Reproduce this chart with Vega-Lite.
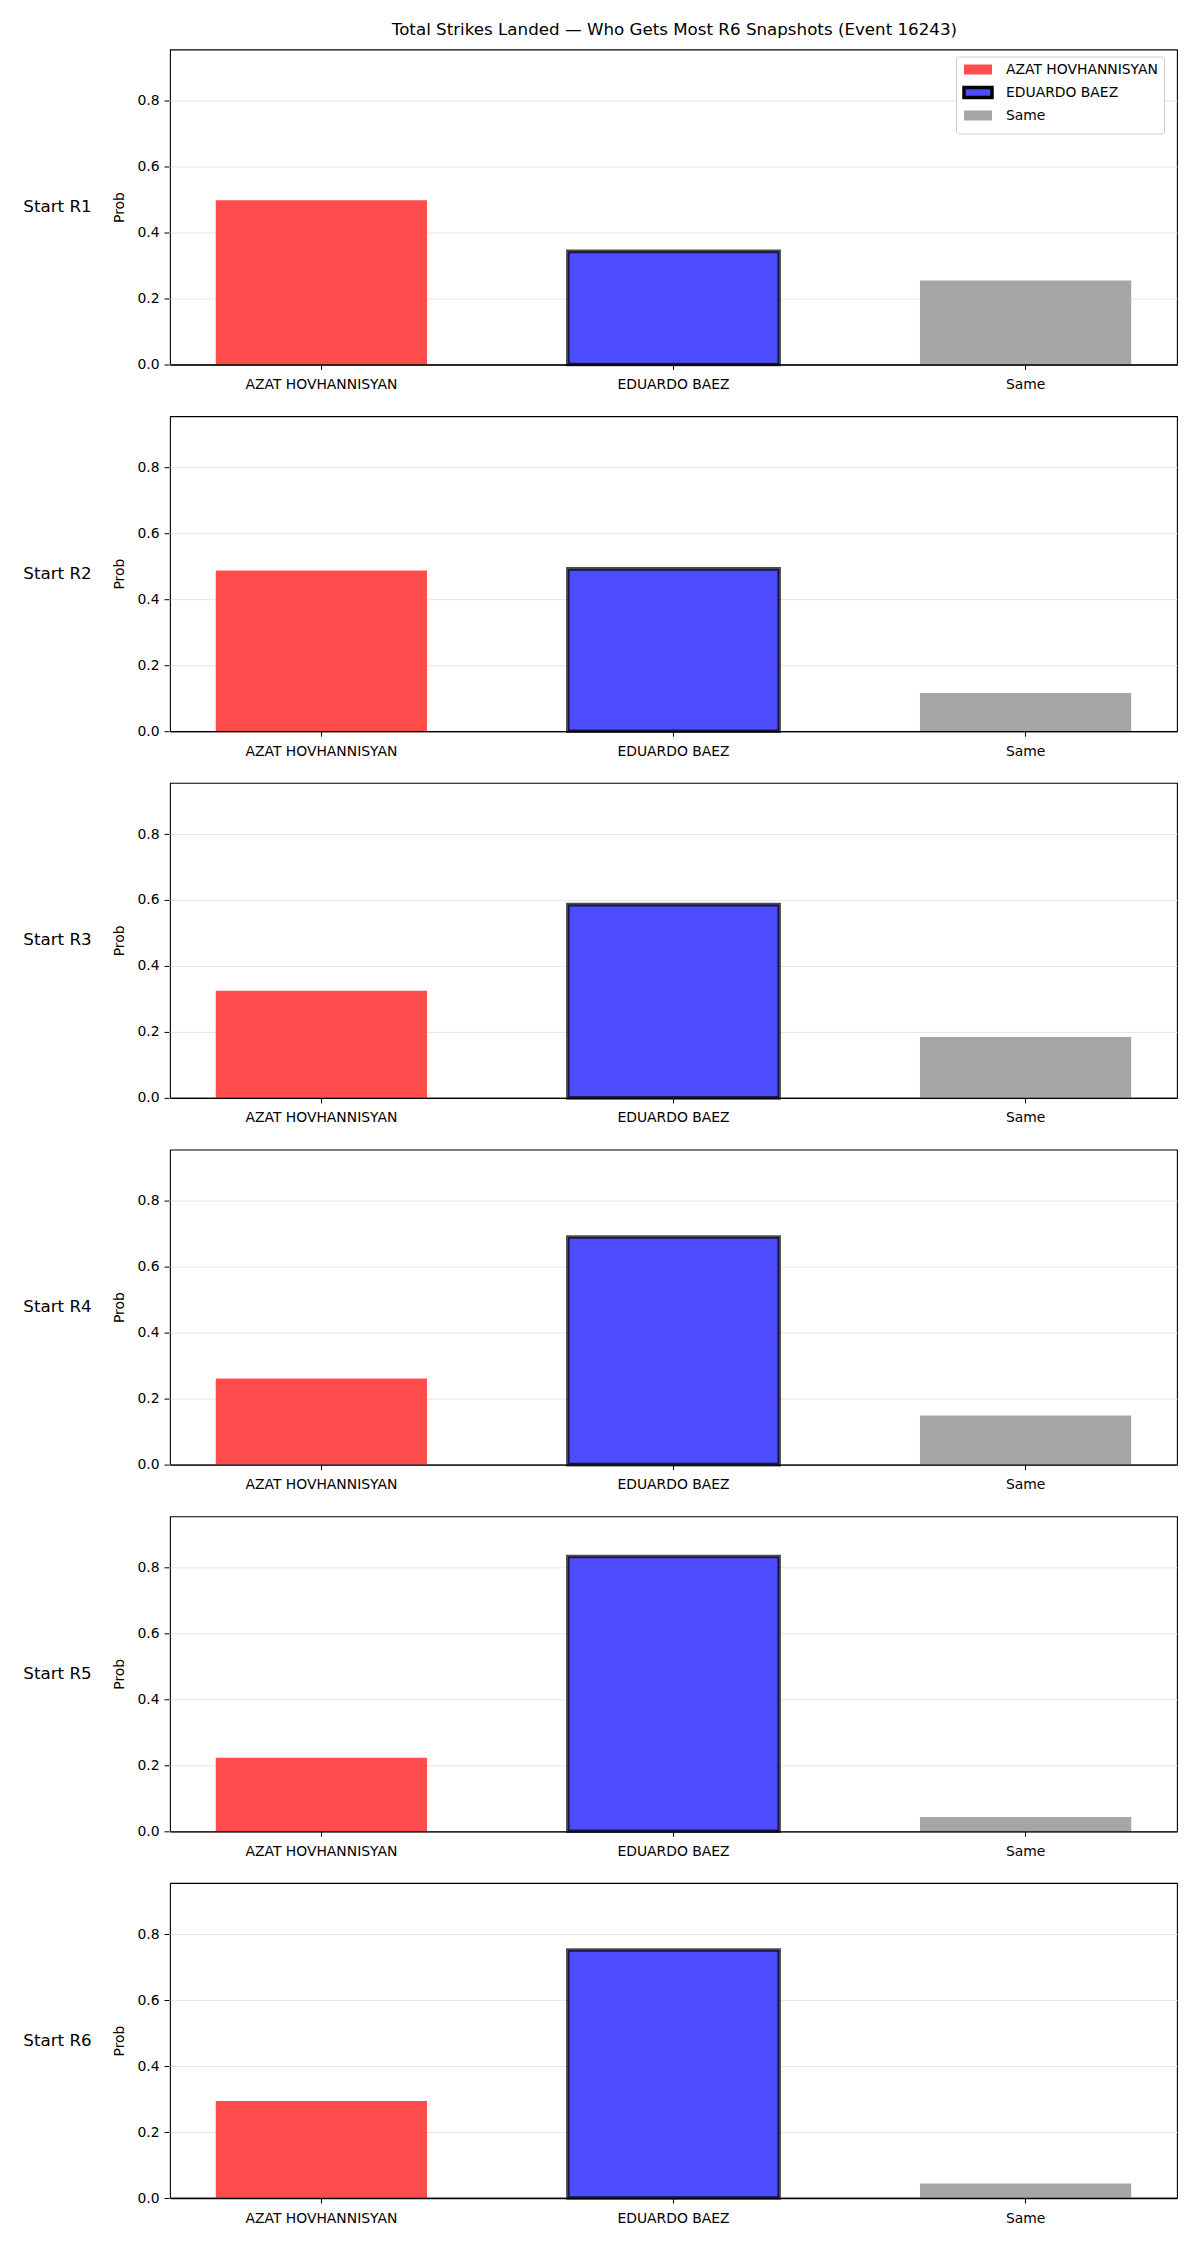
{
  "$schema": "https://vega.github.io/schema/vega-lite/v6.json",
  "background": "white",
  "padding": {"left": 23, "top": 21.5, "right": 10, "bottom": 10},
  "title": {"text": "Total Strikes Landed — Who Gets Most R6 Snapshots (Event 16243)", "fontSize": 16.7, "font": "DejaVu Sans", "fontWeight": "normal", "color": "black", "anchor": "middle", "offset": 10, "dx": 74},
  "data": {"values": [
    {"start": "Start R1", "who": "AZAT HOVHANNISYAN", "prob": 0.498},
    {"start": "Start R1", "who": "EDUARDO BAEZ", "prob": 0.343},
    {"start": "Start R1", "who": "Same", "prob": 0.255},
    {"start": "Start R2", "who": "AZAT HOVHANNISYAN", "prob": 0.487},
    {"start": "Start R2", "who": "EDUARDO BAEZ", "prob": 0.492},
    {"start": "Start R2", "who": "Same", "prob": 0.116},
    {"start": "Start R3", "who": "AZAT HOVHANNISYAN", "prob": 0.325},
    {"start": "Start R3", "who": "EDUARDO BAEZ", "prob": 0.586},
    {"start": "Start R3", "who": "Same", "prob": 0.185},
    {"start": "Start R4", "who": "AZAT HOVHANNISYAN", "prob": 0.261},
    {"start": "Start R4", "who": "EDUARDO BAEZ", "prob": 0.690},
    {"start": "Start R4", "who": "Same", "prob": 0.149},
    {"start": "Start R5", "who": "AZAT HOVHANNISYAN", "prob": 0.223},
    {"start": "Start R5", "who": "EDUARDO BAEZ", "prob": 0.833},
    {"start": "Start R5", "who": "Same", "prob": 0.043},
    {"start": "Start R6", "who": "AZAT HOVHANNISYAN", "prob": 0.294},
    {"start": "Start R6", "who": "EDUARDO BAEZ", "prob": 0.752},
    {"start": "Start R6", "who": "Same", "prob": 0.044}
  ]},
  "facet": {"row": {"field": "start", "type": "nominal", "sort": ["Start R1", "Start R2", "Start R3", "Start R4", "Start R5", "Start R6"],
    "header": {"title": null, "labelAngle": 0, "labelOrient": "left", "labelFontSize": 16.7, "labelFont": "DejaVu Sans", "labelColor": "black", "labelPadding": -47}}},
  "spacing": 22.7,
  "resolve": {"axis": {"x": "independent"}},
  "spec": {
    "width": 1007,
    "height": 315,
    "mark": {"type": "bar", "strokeOpacity": 0.7, "strokeWidth": 3.6},
    "encoding": {
      "x": {"field": "who", "type": "nominal", "sort": ["AZAT HOVHANNISYAN", "EDUARDO BAEZ", "Same"],
        "scale": {"paddingInner": 0.4, "paddingOuter": 0.13},
        "axis": {"title": null, "labelAngle": 0, "labelFontSize": 13.9, "labelFont": "DejaVu Sans", "labelColor": "black", "tickColor": "black", "tickSize": 5, "labelPadding": 8, "domain": true, "domainColor": "black", "domainWidth": 1.3, "zindex": 1, "grid": false}},
      "y": {"field": "prob", "type": "quantitative", "scale": {"domain": [0, 0.955], "nice": false, "zero": true},
        "axis": {"title": "Prob", "values": [0, 0.2, 0.4, 0.6, 0.8], "format": ".1f", "grid": true, "gridColor": "#e6e6e6", "gridWidth": 1, "domain": false, "tickColor": "black", "tickSize": 5, "labelPadding": 5, "labelFontSize": 13.9, "labelFont": "DejaVu Sans", "labelColor": "black", "titleFontSize": 13.9, "titleFont": "DejaVu Sans", "titleFontWeight": "normal", "titleColor": "black", "titlePadding": 10}},
      "color": {"field": "who", "type": "nominal", "scale": {"domain": ["AZAT HOVHANNISYAN", "EDUARDO BAEZ", "Same"], "range": ["#ff4d4d", "#4d4dff", "#a6a6a6"]},
        "legend": {"title": null, "orient": "none", "legendX": 786, "legendY": 7, "labelFontSize": 13.9, "labelFont": "DejaVu Sans", "labelColor": "black", "symbolType": "M-1,-1 L4.6,-1 L4.6,1 L-1,1 Z", "symbolSize": 100, "symbolOpacity": 1, "symbolStrokeWidth": 3.5, "labelOffset": 30, "rowPadding": -1, "padding": 6, "strokeColor": "#cccccc", "fillColor": "white", "cornerRadius": 3}},
      "stroke": {"field": "who", "type": "nominal", "scale": {"domain": ["AZAT HOVHANNISYAN", "EDUARDO BAEZ", "Same"], "range": ["rgba(0,0,0,0)", "#000000", "rgba(0,0,0,0)"]}, "legend": {"title": null}}
    }
  },
  "config": {
    "view": {"stroke": "black", "strokeWidth": 1.1},
    "font": "DejaVu Sans"
  }
}
